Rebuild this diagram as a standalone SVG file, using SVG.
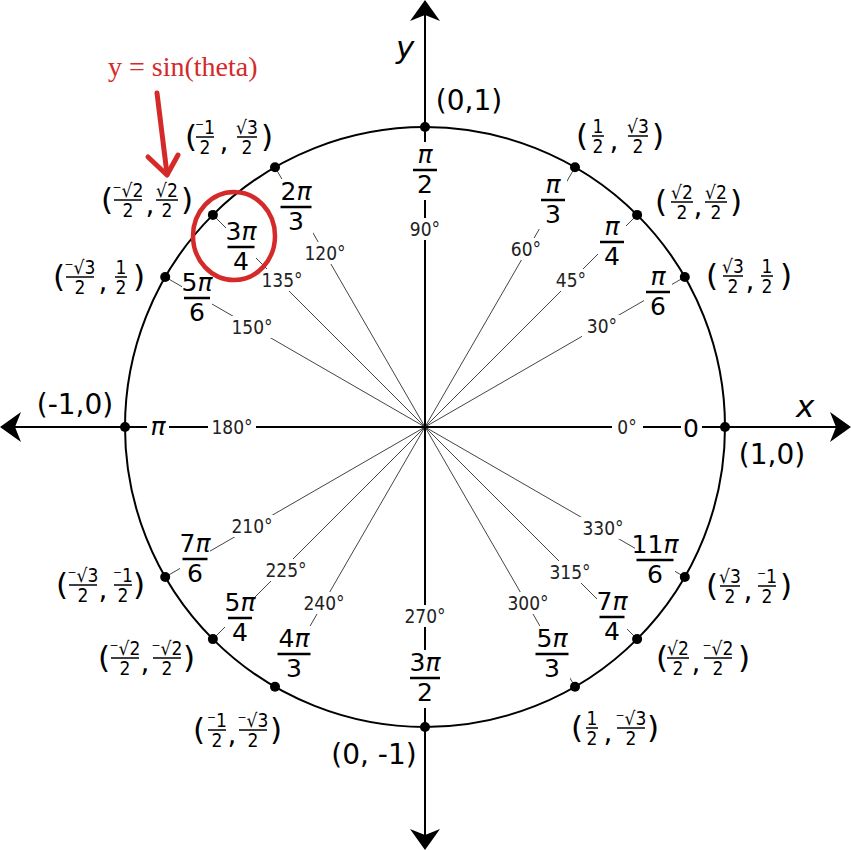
<svg xmlns="http://www.w3.org/2000/svg" width="851" height="850" viewBox="0 0 851 850">
<style>
.ax{stroke:#000;stroke-width:2;fill:none}
.rad{stroke:#444;stroke-width:1}
.circ{fill:none;stroke:#000;stroke-width:2}
.bg{fill:#fff}
.dot{fill:#000}
.big{font-family:"DejaVu Sans",sans-serif;font-size:25px;text-anchor:middle;fill:#000}
.pi{font-style:italic}
.deg{font-family:"DejaVu Sans Condensed","DejaVu Sans",sans-serif;font-size:19px;text-anchor:middle;fill:#222}
.bar{stroke:#000;stroke-width:2.5}
.pt{font-family:"DejaVu Sans",sans-serif;font-size:28px;text-anchor:middle;fill:#000}
.par{font-family:"DejaVu Sans",sans-serif;font-size:31px;fill:#000}
.cm{font-family:"DejaVu Sans",sans-serif;font-size:28px;text-anchor:middle;fill:#000}
.sm{font-family:"DejaVu Sans Condensed","DejaVu Sans",sans-serif;font-size:19px;text-anchor:middle;fill:#000}
.sbar{stroke:#000;stroke-width:1.5}
.axl{font-family:"DejaVu Sans",sans-serif;font-size:31px;font-style:italic;fill:#000}
.red{fill:none;stroke:#d42a2a;stroke-width:5;stroke-linecap:round;stroke-linejoin:round}
.redt{font-family:"Liberation Serif",serif;font-size:28px;fill:#d42a2a}
</style>
<defs>
<path id="ah" d="M0,0 L15,21 L0,15 L-15,21 Z" fill="#000"/>
</defs>

<g id="connectors">
<line class="rad" x1="425" y1="427" x2="684.8" y2="277"/>
<line class="rad" x1="425" y1="427" x2="637.1" y2="214.9"/>
<line class="rad" x1="425" y1="427" x2="575" y2="167.2"/>
<line class="rad" x1="425" y1="427" x2="275" y2="167.2"/>
<line class="rad" x1="425" y1="427" x2="212.9" y2="214.9"/>
<line class="rad" x1="425" y1="427" x2="165.2" y2="277"/>
<line class="rad" x1="425" y1="427" x2="165.2" y2="577"/>
<line class="rad" x1="425" y1="427" x2="212.9" y2="639.1"/>
<line class="rad" x1="425" y1="427" x2="275" y2="686.8"/>
<line class="rad" x1="425" y1="427" x2="575" y2="686.8"/>
<line class="rad" x1="425" y1="427" x2="637.1" y2="639.1"/>
<line class="rad" x1="425" y1="427" x2="684.8" y2="577"/>
<line class="ax" x1="8" y1="427" x2="843" y2="427"/>
<line class="ax" x1="425" y1="8" x2="425" y2="842"/>
<use href="#ah" transform="translate(425,0)"/>
<use href="#ah" transform="translate(425,850) rotate(180)"/>
<use href="#ah" transform="translate(0,427) rotate(-90)"/>
<use href="#ah" transform="translate(851,427) rotate(90)"/>
</g>

<g id="unit-circle">
<circle class="circ" cx="425" cy="427" r="300"/>
<text class="axl" x="796" y="417">x</text>
<text class="axl" x="396" y="58">y</text>
</g>

<g id="angle-0">
<rect class="bg" x="681" y="412" width="21" height="30"/>
<text class="big" x="691" y="437">0</text>
<rect class="bg" x="612" y="416" width="31" height="22"/>
<text class="deg" x="627" y="434">0°</text>
<text class="pt" x="772" y="464">(1,0)</text>
<circle class="dot" cx="725" cy="427" r="5"/>
</g>

<g id="angle-30">
<rect class="bg" x="644" y="264" width="28" height="57"/>
<text class="big" x="658" y="285"><tspan class="pi">π</tspan></text>
<line class="bar" x1="646" y1="292" x2="670" y2="292"/>
<text class="big" x="658" y="315">6</text>
<rect class="bg" x="582" y="315" width="40" height="22"/>
<text class="deg" x="602" y="333">30°</text>
<text class="par" x="706" y="286">(</text>
<text class="sm" x="733" y="273">√3</text><line class="sbar" x1="723" y1="276" x2="743" y2="276"/><text class="sm" x="733" y="293">2</text>
<text class="cm" x="750" y="290">,</text>
<text class="sm" x="767" y="273">1</text><line class="sbar" x1="761" y1="276" x2="773" y2="276"/><text class="sm" x="767" y="293">2</text>
<text class="par" x="792" y="286" text-anchor="end">)</text>
<circle class="dot" cx="684.8" cy="277" r="5"/>
</g>

<g id="angle-45">
<rect class="bg" x="598" y="214" width="28" height="57"/>
<text class="big" x="612" y="235"><tspan class="pi">π</tspan></text>
<line class="bar" x1="600" y1="242" x2="624" y2="242"/>
<text class="big" x="612" y="265">4</text>
<rect class="bg" x="551" y="269" width="40" height="22"/>
<text class="deg" x="571" y="287">45°</text>
<text class="par" x="655" y="212">(</text>
<text class="sm" x="682" y="199">√2</text><line class="sbar" x1="671" y1="202" x2="693" y2="202"/><text class="sm" x="682" y="219">2</text>
<text class="cm" x="698" y="216">,</text>
<text class="sm" x="716" y="199">√2</text><line class="sbar" x1="705" y1="202" x2="727" y2="202"/><text class="sm" x="716" y="219">2</text>
<text class="par" x="742" y="212" text-anchor="end">)</text>
<circle class="dot" cx="637.1" cy="214.9" r="5"/>
</g>

<g id="angle-60">
<rect class="bg" x="539" y="172" width="28" height="57"/>
<text class="big" x="553" y="193"><tspan class="pi">π</tspan></text>
<line class="bar" x1="541" y1="200" x2="565" y2="200"/>
<text class="big" x="553" y="223">3</text>
<rect class="bg" x="506" y="238" width="40" height="22"/>
<text class="deg" x="526" y="256">60°</text>
<text class="par" x="576" y="146">(</text>
<text class="sm" x="598" y="133">1</text><line class="sbar" x1="592" y1="136" x2="604" y2="136"/><text class="sm" x="598" y="153">2</text>
<text class="cm" x="614" y="150">,</text>
<text class="sm" x="638" y="133">√3</text><line class="sbar" x1="628" y1="136" x2="648" y2="136"/><text class="sm" x="638" y="153">2</text>
<text class="par" x="664" y="146" text-anchor="end">)</text>
<circle class="dot" cx="575" cy="167.2" r="5"/>
</g>

<g id="angle-90">
<rect class="bg" x="411" y="142" width="28" height="58"/>
<text class="big" x="425" y="163"><tspan class="pi">π</tspan></text>
<line class="bar" x1="413" y1="170" x2="437" y2="170"/>
<text class="big" x="425" y="193">2</text>
<rect class="bg" x="405" y="218" width="40" height="22"/>
<text class="deg" x="425" y="236">90°</text>
<text class="pt" x="469" y="110">(0,1)</text>
<circle class="dot" cx="425" cy="127" r="5"/>
</g>

<g id="angle-120">
<rect class="bg" x="279" y="179" width="34" height="57"/>
<text class="big" x="296" y="200">2<tspan class="pi">π</tspan></text>
<line class="bar" x1="280.5" y1="207" x2="311.5" y2="207"/>
<text class="big" x="296" y="230">3</text>
<rect class="bg" x="302" y="242" width="46" height="22"/>
<text class="deg" x="325" y="260">120°</text>
<text class="par" x="185" y="147">(</text>
<text class="sm" x="205" y="134">⁻1</text><line class="sbar" x1="196" y1="137" x2="214" y2="137"/><text class="sm" x="205" y="154">2</text>
<text class="cm" x="224" y="151">,</text>
<text class="sm" x="247" y="134">√3</text><line class="sbar" x1="237" y1="137" x2="257" y2="137"/><text class="sm" x="247" y="154">2</text>
<text class="par" x="273" y="147" text-anchor="end">)</text>
<circle class="dot" cx="275" cy="167.2" r="5"/>
</g>

<g id="angle-135">
<rect class="bg" x="226" y="219" width="30" height="57"/>
<text class="big" x="241" y="240">3<tspan class="pi">π</tspan></text>
<line class="bar" x1="227.5" y1="247" x2="254.5" y2="247"/>
<text class="big" x="241" y="270">4</text>
<rect class="bg" x="259" y="269" width="46" height="22"/>
<text class="deg" x="282" y="287">135°</text>
<text class="par" x="101" y="210">(</text>
<text class="sm" x="128" y="197">⁻√2</text><line class="sbar" x1="114" y1="200" x2="142" y2="200"/><text class="sm" x="128" y="217">2</text>
<text class="cm" x="150" y="214">,</text>
<text class="sm" x="167" y="197">√2</text><line class="sbar" x1="156" y1="200" x2="178" y2="200"/><text class="sm" x="167" y="217">2</text>
<text class="par" x="193" y="210" text-anchor="end">)</text>
<circle class="dot" cx="212.9" cy="214.9" r="5"/>
</g>

<g id="angle-150">
<rect class="bg" x="182" y="270" width="30" height="57"/>
<text class="big" x="197" y="291">5<tspan class="pi">π</tspan></text>
<line class="bar" x1="184" y1="298" x2="210" y2="298"/>
<text class="big" x="197" y="321">6</text>
<rect class="bg" x="229" y="316" width="46" height="22"/>
<text class="deg" x="252" y="334">150°</text>
<text class="par" x="53" y="287">(</text>
<text class="sm" x="80" y="274">⁻√3</text><line class="sbar" x1="66" y1="277" x2="94" y2="277"/><text class="sm" x="80" y="294">2</text>
<text class="cm" x="103" y="291">,</text>
<text class="sm" x="121" y="274">1</text><line class="sbar" x1="115" y1="277" x2="127" y2="277"/><text class="sm" x="121" y="294">2</text>
<text class="par" x="145" y="287" text-anchor="end">)</text>
<circle class="dot" cx="165.2" cy="277" r="5"/>
</g>

<g id="angle-180">
<rect class="bg" x="147" y="412" width="22" height="30"/>
<text class="big" x="158" y="435"><tspan class="pi">π</tspan></text>
<rect class="bg" x="208" y="416" width="48" height="22"/>
<text class="deg" x="232" y="434">180°</text>
<text class="pt" x="75" y="414">(-1,0)</text>
<circle class="dot" cx="125" cy="427" r="5"/>
</g>

<g id="angle-210">
<rect class="bg" x="180" y="531" width="30" height="57"/>
<text class="big" x="195" y="552">7<tspan class="pi">π</tspan></text>
<line class="bar" x1="182.5" y1="559" x2="207.5" y2="559"/>
<text class="big" x="195" y="582">6</text>
<rect class="bg" x="229" y="515" width="46" height="22"/>
<text class="deg" x="252" y="533">210°</text>
<text class="par" x="56" y="595">(</text>
<text class="sm" x="83" y="582">⁻√3</text><line class="sbar" x1="69" y1="585" x2="97" y2="585"/><text class="sm" x="83" y="602">2</text>
<text class="cm" x="103" y="599">,</text>
<text class="sm" x="123" y="582">⁻1</text><line class="sbar" x1="114" y1="585" x2="132" y2="585"/><text class="sm" x="123" y="602">2</text>
<text class="par" x="145" y="595" text-anchor="end">)</text>
<circle class="dot" cx="165.2" cy="577" r="5"/>
</g>

<g id="angle-225">
<rect class="bg" x="225" y="590" width="30" height="57"/>
<text class="big" x="240" y="611">5<tspan class="pi">π</tspan></text>
<line class="bar" x1="228" y1="618" x2="252" y2="618"/>
<text class="big" x="240" y="641">4</text>
<rect class="bg" x="263" y="559" width="46" height="22"/>
<text class="deg" x="286" y="577">225°</text>
<text class="par" x="98" y="668">(</text>
<text class="sm" x="125" y="655">⁻√2</text><line class="sbar" x1="111" y1="658" x2="139" y2="658"/><text class="sm" x="125" y="675">2</text>
<text class="cm" x="145" y="672">,</text>
<text class="sm" x="167" y="655">⁻√2</text><line class="sbar" x1="153" y1="658" x2="181" y2="658"/><text class="sm" x="167" y="675">2</text>
<text class="par" x="195" y="668" text-anchor="end">)</text>
<circle class="dot" cx="212.9" cy="639.1" r="5"/>
</g>

<g id="angle-240">
<rect class="bg" x="276" y="626" width="36" height="57"/>
<text class="big" x="294" y="647">4<tspan class="pi">π</tspan></text>
<line class="bar" x1="277.5" y1="654" x2="310.5" y2="654"/>
<text class="big" x="294" y="677">3</text>
<rect class="bg" x="301" y="592" width="46" height="22"/>
<text class="deg" x="324" y="610">240°</text>
<text class="par" x="193" y="740">(</text>
<text class="sm" x="217" y="727">⁻1</text><line class="sbar" x1="208" y1="730" x2="226" y2="730"/><text class="sm" x="217" y="747">2</text>
<text class="cm" x="232" y="744">,</text>
<text class="sm" x="253" y="727">⁻√3</text><line class="sbar" x1="239" y1="730" x2="267" y2="730"/><text class="sm" x="253" y="747">2</text>
<text class="par" x="282" y="740" text-anchor="end">)</text>
<circle class="dot" cx="275" cy="686.8" r="5"/>
</g>

<g id="angle-270">
<rect class="bg" x="408" y="650" width="34" height="58"/>
<text class="big" x="425" y="671">3<tspan class="pi">π</tspan></text>
<line class="bar" x1="410" y1="678" x2="440" y2="678"/>
<text class="big" x="425" y="701">2</text>
<rect class="bg" x="402" y="605" width="46" height="22"/>
<text class="deg" x="425" y="623">270°</text>
<text class="pt" x="374" y="764">(0, -1)</text>
<circle class="dot" cx="425" cy="727" r="5"/>
</g>

<g id="angle-300">
<rect class="bg" x="534" y="626" width="36" height="57"/>
<text class="big" x="552" y="647">5<tspan class="pi">π</tspan></text>
<line class="bar" x1="535.5" y1="654" x2="568.5" y2="654"/>
<text class="big" x="552" y="677">3</text>
<rect class="bg" x="505" y="592" width="46" height="22"/>
<text class="deg" x="528" y="610">300°</text>
<text class="par" x="571" y="738">(</text>
<text class="sm" x="592" y="725">1</text><line class="sbar" x1="586" y1="728" x2="598" y2="728"/><text class="sm" x="592" y="745">2</text>
<text class="cm" x="608" y="742">,</text>
<text class="sm" x="631" y="725">⁻√3</text><line class="sbar" x1="617" y1="728" x2="645" y2="728"/><text class="sm" x="631" y="745">2</text>
<text class="par" x="659" y="738" text-anchor="end">)</text>
<circle class="dot" cx="575" cy="686.8" r="5"/>
</g>

<g id="angle-315">
<rect class="bg" x="597" y="589" width="30" height="57"/>
<text class="big" x="612" y="610">7<tspan class="pi">π</tspan></text>
<line class="bar" x1="599.5" y1="617" x2="624.5" y2="617"/>
<text class="big" x="612" y="640">4</text>
<rect class="bg" x="547" y="561" width="46" height="22"/>
<text class="deg" x="570" y="579">315°</text>
<text class="par" x="656" y="668">(</text>
<text class="sm" x="678" y="655">√2</text><line class="sbar" x1="667" y1="658" x2="689" y2="658"/><text class="sm" x="678" y="675">2</text>
<text class="cm" x="696" y="672">,</text>
<text class="sm" x="718" y="655">⁻√2</text><line class="sbar" x1="704" y1="658" x2="732" y2="658"/><text class="sm" x="718" y="675">2</text>
<text class="par" x="750" y="668" text-anchor="end">)</text>
<circle class="dot" cx="637.1" cy="639.1" r="5"/>
</g>

<g id="angle-330">
<rect class="bg" x="635" y="532" width="40" height="57"/>
<text class="big" x="655" y="553">11<tspan class="pi">π</tspan></text>
<line class="bar" x1="636.5" y1="560" x2="673.5" y2="560"/>
<text class="big" x="655" y="583">6</text>
<rect class="bg" x="580" y="517" width="46" height="22"/>
<text class="deg" x="603" y="535">330°</text>
<text class="par" x="706" y="596">(</text>
<text class="sm" x="730" y="583">√3</text><line class="sbar" x1="720" y1="586" x2="740" y2="586"/><text class="sm" x="730" y="603">2</text>
<text class="cm" x="748" y="600">,</text>
<text class="sm" x="767" y="583">⁻1</text><line class="sbar" x1="758" y1="586" x2="776" y2="586"/><text class="sm" x="767" y="603">2</text>
<text class="par" x="792" y="596" text-anchor="end">)</text>
<circle class="dot" cx="684.8" cy="577" r="5"/>
</g>

<g id="annotation">
<text class="redt" x="108" y="76">y = sin(theta)</text>
<path class="red" d="M157,93 L167,174"/>
<path class="red" d="M148,157 L167,175 L178,155"/>
<ellipse cx="234" cy="236" rx="41" ry="44" fill="none" stroke="#d42a2a" stroke-width="4.5"/>
</g>
</svg>
